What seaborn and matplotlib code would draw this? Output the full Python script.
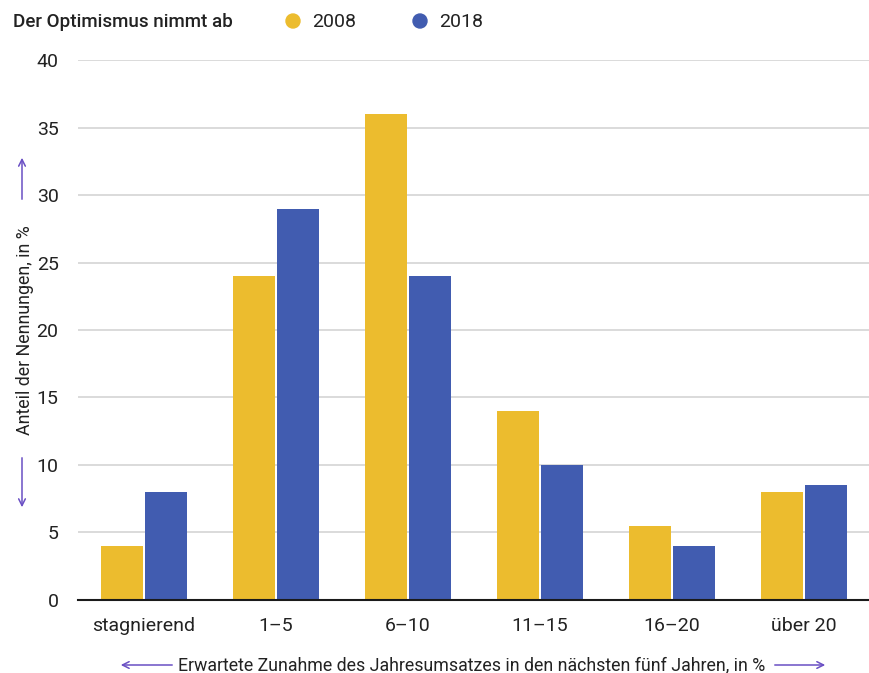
import matplotlib
matplotlib.use("Agg")
import matplotlib.pyplot as plt
import matplotlib.font_manager as fm
from matplotlib.patches import Ellipse, FancyArrowPatch
import pandas as pd
import seaborn as sns

CATEGORIES = ["stagnierend", "1–5", "6–10", "11–15", "16–20", "über 20"]
VALUES_2008 = [4, 24, 36, 14, 5.5, 8]
VALUES_2018 = [8, 29, 24, 10, 4, 8.5]
YEARS = ["2008", "2018"]
COLORS = {"2008": "#ECBC2E", "2018": "#415CB0"}
Y_TICKS = [0, 5, 10, 15, 20, 25, 30, 35, 40]

names = {f.name for f in fm.fontManager.ttflist}

sns.set_style("white")
if "Liberation Sans Narrow" in names:
    plt.rcParams["font.family"] = ["Liberation Sans Narrow", "DejaVu Sans"]
else:
    plt.rcParams["font.family"] = ["Roboto", "DejaVu Sans"]

df = pd.DataFrame({
    "Kategorie": CATEGORIES * 2,
    "Jahr": [YEARS[0]] * len(CATEGORIES) + [YEARS[1]] * len(CATEGORIES),
    "Wert": VALUES_2008 + VALUES_2018,
})

fig = plt.figure(figsize=(8.7, 6.73), dpi=100)
ax = fig.add_axes([0.0897, 0.1085, 0.9103, 0.8023])

sns.barplot(data=df, x="Kategorie", y="Wert", hue="Jahr", palette=COLORS,
            width=0.667, gap=0.05, saturation=1, linewidth=0, legend=False,
            ax=ax, zorder=2)

ax.set_xlim(-0.5, 5.5)
ax.set_ylim(0, 40)
ax.set_yticks(Y_TICKS)
ax.yaxis.grid(True, color="#d4d4d4", linewidth=1.2, zorder=0)
ax.set_axisbelow(True)
for side in ["top", "right", "left"]:
    ax.spines[side].set_visible(False)
ax.spines["bottom"].set_color("#1a1a1a")
ax.spines["bottom"].set_linewidth(1.5)
ax.spines["bottom"].set_zorder(3)
ax.tick_params(axis="both", length=0, labelsize=14, colors="#222222")
ax.tick_params(axis="x", pad=12)
ax.tick_params(axis="y", pad=14)
ax.set_xlabel("")
ax.set_ylabel("")

txt = "#222222"
arrow_c = "#6A4FC4"
# title and legend
fig.text(13 / 870, 1 - 22 / 673, "Der Optimismus nimmt ab", fontsize=13.5,
         color=txt, va="center", ha="left", fontweight="medium")
for x0, year in [(293, "2008"), (420, "2018")]:
    fig.patches.append(Ellipse((x0 / 870, 1 - 21 / 673), 14 / 870, 14 / 673,
                               transform=fig.transFigure, color=COLORS[year]))
    fig.text((x0 + 19) / 870, 1 - 22 / 673, year, fontsize=14, color=txt,
             va="center", ha="left")

# axis labels with arrows
fig.text(25 / 870, 1 - 330 / 673, "Anteil der Nennungen, in %", rotation=90,
         fontsize=12.8, color=txt, va="center", ha="center")
arr = dict(arrowstyle="->", color=arrow_c, lw=1.1, mutation_scale=12)
fig.add_artist(FancyArrowPatch((22 / 870, 1 - 202 / 673), (22 / 870, 1 - 155 / 673),
                               transform=fig.transFigure, **arr))
fig.add_artist(FancyArrowPatch((22 / 870, 1 - 455 / 673), (22 / 870, 1 - 510 / 673),
                               transform=fig.transFigure, **arr))
fig.text(472 / 870, 1 - 665 / 673,
         "Erwartete Zunahme des Jahresumsatzes in den nächsten fünf Jahren, in %",
         fontsize=12.8, color=txt, va="center", ha="center")
fig.add_artist(FancyArrowPatch((175 / 870, 1 - 665 / 673), (118 / 870, 1 - 665 / 673),
                               transform=fig.transFigure, **arr))
fig.add_artist(FancyArrowPatch((772 / 870, 1 - 665 / 673), (828 / 870, 1 - 665 / 673),
                               transform=fig.transFigure, **arr))

fig.savefig("out.png", dpi=100)
